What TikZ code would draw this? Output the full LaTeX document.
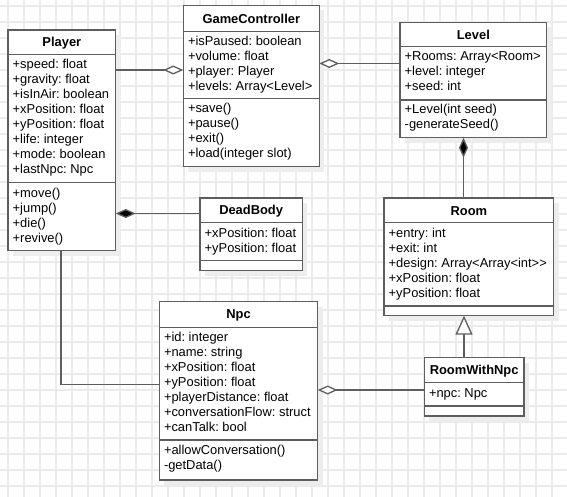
\documentclass[tikz,border=0pt]{standalone}
\usepackage{fontspec}
\setmainfont{Liberation Sans}
\usetikzlibrary{arrows.meta}
\frenchspacing
\definecolor{gridc}{HTML}{EBEBEB}
\definecolor{linec}{HTML}{5E5E5E}
\definecolor{shadowc}{HTML}{EDEDED}
\tikzset{
  gridline/.style={draw=gridc, line width=1.2pt},
  classbox/.style={draw=linec, fill=white, line width=1.4pt, rectangle, inner sep=0pt, outer sep=0pt},
  boxline/.style={draw=linec, line width=1.4pt},
  shadowfill/.style={fill=shadowc},
  titletext/.style={font=\fontsize{12.9}{15}\selectfont\bfseries\frenchspacing, inner sep=0pt, anchor=center},
  rowtext/.style={font=\fontsize{12.9}{15}\selectfont\frenchspacing, inner sep=0pt, anchor=base west},
  conn/.style={draw=linec, line width=1.3pt},
  hollowdiamond/.style={-{Diamond[fill=white, length=20pt, width=9pt]}},
  solidiamond/.style={-{Diamond[fill=black, length=20pt, width=9pt]}},
  inherit/.style={-{Triangle[fill=white, length=19pt, width=17pt]}}
}
% #1 name, #2 x1, #3 y1, #4 x2, #5 y2, #6 title divider, #7 section divider, #8 title
\newcommand{\umlbox}[8]{%
  \fill[shadowfill] ({#2+5},{#3+5}) rectangle ({#4+5},{#5+5});
  \node[classbox, anchor=north west, minimum width={#4-#2}, minimum height={#5-#3}] (#1) at (#2,#3) {};
  \draw[boxline] (#2,#6) -- (#4,#6);
  \draw[boxline] (#2,#7) -- (#4,#7);
  \node[titletext] (#1-title) at ({(#2+#4)/2},{(#3+#6)/2+0.5}) {#8};
}
% #1 prefix, #2 x, #3 first baseline, #4 list
\newcommand{\umlrows}[4]{%
  \foreach \t [count=\i from 0] in {#4} {\node[rowtext] (#1-\i) at ({#2+4.5},{#3+15*\i}) {\t};}
}
\begin{document}
\begin{tikzpicture}[x=1pt,y=-1pt]
\useasboundingbox (0,0) rectangle (567,497);
\fill[white] (0,0) rectangle (567,497);
\foreach \gx in {8,24,...,567} \draw[gridline] (\gx,0) -- (\gx,497);
\foreach \gy in {6,22,...,497} \draw[gridline] (0,\gy) -- (567,\gy);

% Player
\umlbox{player}{8}{30}{115.7}{250.7}{54.7}{182.7}{Player}
\umlrows{playera}{8}{69}{+speed: float,+gravity: float,+isInAir: boolean,+xPosition: float,+yPosition: float,+life: integer,+mode: boolean,+lastNpc: Npc}
\umlrows{playerm}{8}{197}{+move(),+jump(),+die(),+revive()}

% GameController
\umlbox{gc}{183.3}{5.3}{319.3}{166.7}{31.7}{98.7}{GameController}
\umlrows{gca}{183.3}{46}{+isPaused: boolean,+volume: float,+player: Player,+levels: Array<Level>}
\umlrows{gcm}{183.3}{113}{+save(),+pause(),+exit(),+load(integer slot)}

% Level
\umlbox{level}{400}{22.3}{546.7}{137.7}{46.7}{100}{Level}
\umlrows{levela}{400}{61}{+Rooms: Array<Room>,+level: integer,+seed: int}
\umlrows{levelm}{400}{114}{+Level(int seed),-generateSeed()}

% DeadBody
\umlbox{deadbody}{200}{198}{302.3}{270.7}{222.7}{260.7}{DeadBody}
\umlrows{deadbodya}{200}{237}{+xPosition: float,+yPosition: float}

% Room
\umlbox{room}{384}{198}{553.7}{315.7}{222.7}{306}{Room}
\umlrows{rooma}{384}{237}{+entry: int,+exit: int,+design: Array<Array<int>{}\kern0pt>,+xPosition: float,+yPosition: float}

% RoomWithNpc
\umlbox{rwn}{424.3}{357.7}{524}{416}{382.7}{406}{RoomWithNpc}
\umlrows{rwna}{424.3}{397}{+npc: Npc}

% Npc
\umlbox{npc}{159.3}{301.7}{317.7}{480}{327.3}{440}{Npc}
\umlrows{npca}{159.3}{341.5}{+id: integer,+name: string,+xPosition: float,+yPosition: float,+playerDistance: float,+conversationFlow: struct,+canTalk: bool}
\umlrows{npcm}{159.3}{454}{+allowConversation(),-getData()}

% connectors
\draw[conn, hollowdiamond] (player.east |- 0,70) -- (gc.west |- 0,70);
\draw[conn, hollowdiamond] (level.west |- 0,63.5) -- (gc.east |- 0,63.5);
\draw[conn, solidiamond] (room.north -| 463.5,0) -- (level.south -| 463.5,0);
\draw[conn, solidiamond] (deadbody.west |- 0,213.5) -- (player.east |- 0,213.5);
\draw[conn] (player.south -| 61,0) |- (npc.west |- 0,384.7);
\draw[conn, hollowdiamond] (rwn.west |- 0,390) -- (npc.east |- 0,390);
\draw[conn, inherit] (rwn.north -| 464,0) -- (room.south -| 464,0);
\end{tikzpicture}
\end{document}
